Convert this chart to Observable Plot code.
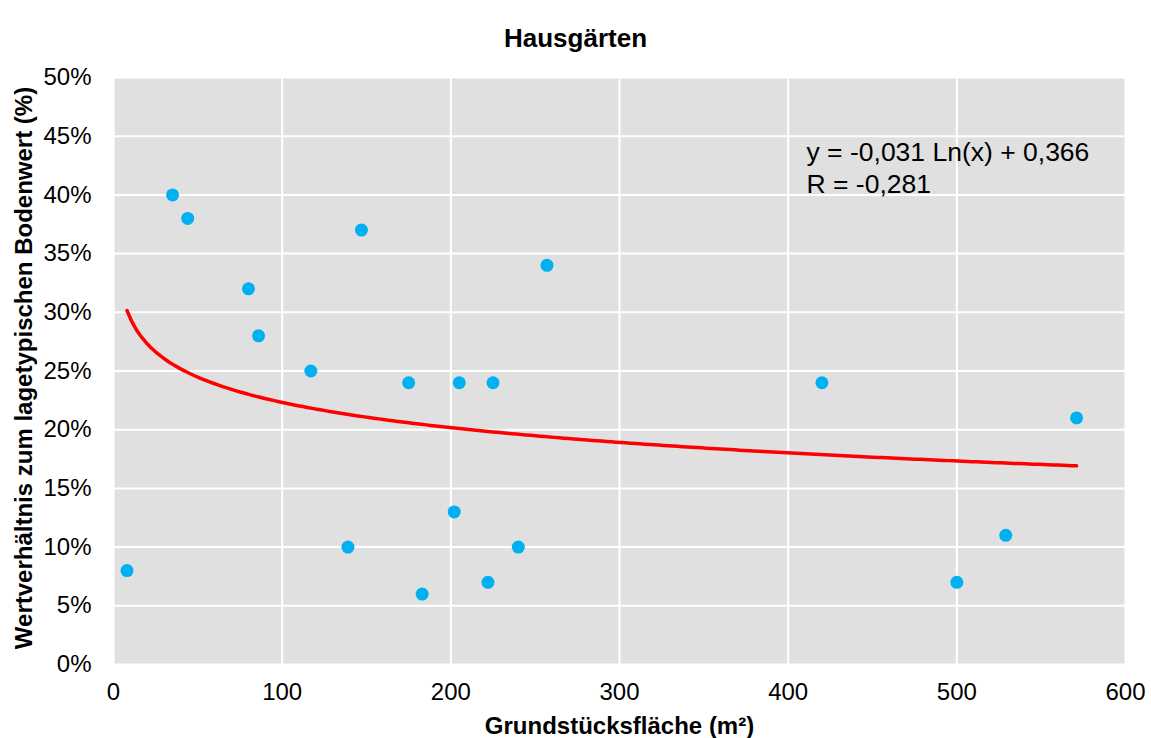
<!DOCTYPE html>
<html>
<head>
<meta charset="utf-8">
<script src="https://cdn.jsdelivr.net/npm/d3@7"></script>
<script src="https://cdn.jsdelivr.net/npm/@observablehq/plot@0.6"></script>
<style>
  html, body { margin: 0; padding: 0; background: #fff; }
  #chart svg { display: block; font-family: "Liberation Sans", Arial, sans-serif; }
</style>
</head>
<body>
<div id="chart"></div>
<script>
const title = "Hausgärten";
const xLabel = "Grundstücksfläche (m²)";
const yLabel = "Wertverhältnis zum lagetypischen Bodenwert (%)";
const area  = [8, 35, 44, 80, 86, 117, 139, 147, 175, 183, 202, 205, 222, 225, 240, 257, 420, 500, 529, 571];
const ratio = [0.08, 0.40, 0.38, 0.32, 0.28, 0.25, 0.10, 0.37, 0.24, 0.06, 0.13, 0.24, 0.07, 0.24, 0.10, 0.34, 0.24, 0.07, 0.11, 0.21];
const trendA = -0.031, trendB = 0.366;
const equationLines = ["y = -0,031 Ln(x) + 0,366", "R = -0,281"];
const xTicks = [0, 100, 200, 300, 400, 500, 600];
const yTicks = [0, 0.05, 0.10, 0.15, 0.20, 0.25, 0.30, 0.35, 0.40, 0.45, 0.50];

const points = area.map((a, i) => ({x: a, y: ratio[i]}));
const xMin = d3.min(area), xMax = d3.max(area);
const trend = d3.range(0, 201).map(i => {
  const x = xMin + (xMax - xMin) * i / 200;
  return {x, y: trendA * Math.log(x) + trendB};
});

const fmtPct = d => Math.round(d * 100) + "%";

const chart = Plot.plot({
  width: 1151,
  height: 738,
  marginLeft: 113,
  marginRight: 26,
  marginTop: 77,
  marginBottom: 74,
  style: {fontFamily: "'Liberation Sans', Arial, sans-serif", fontSize: "24px", color: "#000", background: "#fff"},
  x: {domain: [0, 600], ticks: xTicks},
  y: {domain: [0, 0.5], ticks: yTicks},
  marks: [
    Plot.frame({fill: "#e0e0e0", stroke: null}),
    Plot.gridX(xTicks, {stroke: "#fff", strokeOpacity: 1, strokeWidth: 2}),
    Plot.gridY(yTicks, {stroke: "#fff", strokeOpacity: 1, strokeWidth: 2}),
    Plot.axisX(xTicks, {tickSize: 0, tickPadding: 18, fontSize: 24, label: null, tickFormat: d => String(d)}),
    Plot.axisY(yTicks, {tickSize: 0, tickPadding: 22, fontSize: 24, label: null, tickFormat: fmtPct}),
    Plot.line(trend, {x: "x", y: "y", stroke: "#ff0000", strokeWidth: 3.5}),
    Plot.dot(points, {x: "x", y: "y", r: 6.5, fill: "#00b0f0", stroke: null}),
    Plot.text([equationLines.join("\n")], {frameAnchor: "top-left", dx: 693, dy: 61, textAnchor: "start", lineAnchor: "top", fontSize: 26.5, lineHeight: 1.2, fill: "#000"}),
    Plot.text([title], {frameAnchor: "top", dx: -44, dy: -49, fontSize: 26, fontWeight: "bold", fill: "#000"}),
    Plot.text([xLabel], {frameAnchor: "bottom", dy: 69, fontSize: 24, fontWeight: "bold", fill: "#000"}),
    Plot.text([yLabel], {frameAnchor: "left", dx: -89, dy: -3, rotate: -90, textAnchor: "middle", fontSize: 24, fontWeight: "bold", fill: "#000"})
  ]
});
document.getElementById("chart").appendChild(chart);
</script>
</body>
</html>
